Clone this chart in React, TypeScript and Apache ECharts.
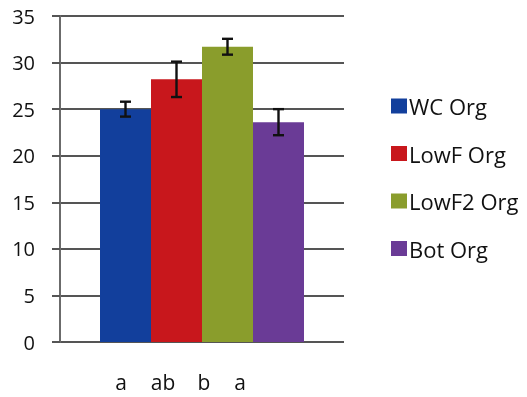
import React, { useEffect, useRef } from "react";
import * as echarts from "echarts";

const seriesNames = ["WC Org", "LowF Org", "LowF2 Org", "Bot Org"];
const seriesValues = [25.0, 28.2, 31.7, 23.6];
const errorValues = [0.8, 1.9, 0.85, 1.4];
const seriesColors = ["#123f9c", "#c8171c", "#8a9d2c", "#6a3b96"];
const sigLetters = ["a", "ab", "b", "a"];
const yTicks = { min: 0, max: 35, interval: 5 };

const BAR_W = 51;
const FONT = "'Open Sans', 'Noto Sans', sans-serif";

export default function App() {
  const ref = useRef<HTMLDivElement>(null);
  useEffect(() => {
    if (!ref.current) return;
    const chart = echarts.init(ref.current, null, { renderer: "svg" });
    const n = seriesNames.length;
    const bars = seriesNames.map((name, i) => ({
      name,
      type: "bar",
      data: [seriesValues[i]],
      barWidth: BAR_W,
      barGap: "0%",
      itemStyle: { color: seriesColors[i] },
      z: 2,
    }));
    const errData = seriesNames.map((_, i) => [0, seriesValues[i] - errorValues[i], seriesValues[i] + errorValues[i], i]);
    const errSeries = {
      type: "custom",
      name: "err",
      data: errData,
      z: 5,
      renderItem: (params: any, api: any) => {
        const idx = api.value(3);
        const off = (idx - (n - 1) / 2) * BAR_W;
        const lo = api.coord([api.value(0), api.value(1)]);
        const hi = api.coord([api.value(0), api.value(2)]);
        const x = lo[0] + off;
        const cap = 5.5;
        const style = { stroke: "#111", lineWidth: 2.4 };
        return {
          type: "group",
          children: [
            { type: "line", shape: { x1: x, y1: lo[1], x2: x, y2: hi[1] }, style },
            { type: "line", shape: { x1: x - cap, y1: lo[1], x2: x + cap, y2: lo[1] }, style },
            { type: "line", shape: { x1: x - cap, y1: hi[1], x2: x + cap, y2: hi[1] }, style },
          ],
        };
      },
      encode: { x: 0, y: [1, 2] },
    };
    const letterX = [121, 163, 204, 240];
    chart.setOption({
      animation: false,
      grid: { left: 60, right: 183, top: 16, bottom: 55 },
      xAxis: {
        type: "category",
        data: [""],
        axisLine: { show: false },
        axisTick: { show: false },
        axisLabel: { show: false },
      },
      yAxis: {
        type: "value",
        min: yTicks.min,
        max: yTicks.max,
        interval: yTicks.interval,
        axisLine: { show: true, lineStyle: { color: "#6b6b6b", width: 2 } },
        axisTick: { show: true, length: 8, lineStyle: { color: "#555", width: 2 } },
        axisLabel: { margin: 25, fontSize: 20, fontWeight: 500, color: "#111", fontFamily: FONT },
        splitLine: { show: true, lineStyle: { color: "#555", width: 2 } },
      },
      legend: {
        orient: "vertical",
        left: 386,
        top: 90,
        itemWidth: 16,
        itemHeight: 15,
        itemGap: 25.5,
        icon: "rect",
        data: seriesNames,
        textStyle: { fontSize: 22, fontWeight: 500, color: "#111", fontFamily: FONT, padding: [0, 0, 0, -3] },
      },
      graphic: sigLetters.map((t, i) => ({
        type: "text",
        x: letterX[i],
        y: 382,
        style: { text: t, fontSize: 21, fontWeight: 500, fill: "#111", fontFamily: FONT, align: "center", verticalAlign: "middle" },
      })),
      series: [...bars, errSeries],
    });
    return () => chart.dispose();
  }, []);
  return <div ref={ref} style={{ position: "fixed", left: 0, top: 0, width: 527, height: 397 }} />;
}
